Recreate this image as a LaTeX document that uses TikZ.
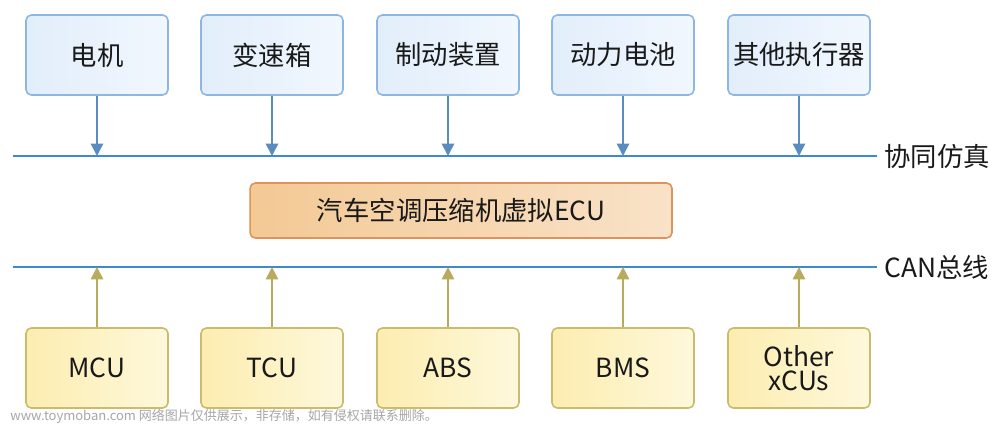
\documentclass[tikz,border=0pt]{standalone}
\usepackage{fontspec}
\setmainfont{Noto Sans CJK SC}
\usetikzlibrary{arrows.meta,positioning}
\definecolor{bluefillA}{HTML}{E2EEFB}
\definecolor{bluefillB}{HTML}{F1F7FE}
\definecolor{blueborder}{HTML}{8DB7E2}
\definecolor{bluearrow}{HTML}{5A8CC0}
\definecolor{busline}{HTML}{3D89D4}
\definecolor{orangeA}{HTML}{F3C994}
\definecolor{orangeB}{HTML}{F9E2C8}
\definecolor{orangeborder}{HTML}{DE935A}
\definecolor{yellowA}{HTML}{FCEDB0}
\definecolor{yellowB}{HTML}{FEF8DB}
\definecolor{yellowborder}{HTML}{CCBB6E}
\definecolor{yellowarrow}{HTML}{B9AA5C}
\tikzset{
  x=0.02cm,y=-0.02cm,
  txt/.style={font=\fontsize{15pt}{18pt}\selectfont,text=black!90},
  topbox/.style={txt,draw=blueborder,line width=0.9pt,rounded corners=3pt,left color=bluefillA,right color=bluefillB,minimum width=2.84cm,minimum height=1.6cm,inner sep=0pt},
  botbox/.style={txt,draw=yellowborder,line width=0.9pt,rounded corners=3pt,left color=yellowA,right color=yellowB,minimum width=2.84cm,minimum height=1.6cm,inner sep=0pt,align=center},
  ecubox/.style={txt,draw=orangeborder,line width=0.9pt,rounded corners=3pt,left color=orangeA,right color=orangeB,minimum width=8.44cm,minimum height=1.1cm,inner sep=0pt},
  bus/.style={draw=busline,line width=1pt},
  downarr/.style={draw=bluearrow,line width=0.9pt,-{Triangle[length=7pt,width=7pt]}},
  uparr/.style={draw=yellowarrow,line width=0.9pt,-{Triangle[length=7pt,width=7pt]}},
  buslabel/.style={txt,anchor=west,inner sep=0pt},
}
\begin{document}
\begin{tikzpicture}
\useasboundingbox (0,0) rectangle (1000,425);
% top boxes
\node[topbox] (t1) at (97,55) {电机};
\node[topbox] (t2) at (272,55) {变速箱};
\node[topbox] (t3) at (448,55) {制动装置};
\node[topbox] (t4) at (623,55) {动力电池};
\node[topbox] (t5) at (799,55) {其他执行器};
% buses
\coordinate (b1l) at (13,156);
\coordinate (b1r) at (877,156);
\coordinate (b2l) at (13,267);
\coordinate (b2r) at (877,267);
\draw[bus] (b1l) -- (b1r);
\draw[bus] (b2l) -- (b2r);
\node[buslabel] (l1) at (884,156) {协同仿真};
\node[buslabel] (l2) at (884,267) {CAN总线};
% ECU
\node[ecubox] (ecu) at (461,210.5) {汽车空调压缩机虚拟ECU};
% bottom boxes
\node[botbox] (m1) at (97,368) {MCU};
\node[botbox] (m2) at (272,368) {TCU};
\node[botbox] (m3) at (448,368) {ABS};
\node[botbox] (m4) at (623,368) {BMS};
\node[botbox] (m5) at (799,368) {Other\\[-4pt]xCUs};
% arrows
\foreach \i/\x in {1/97,2/272,3/448,4/623,5/799}{
  \coordinate (d\i) at (\x,156);
  \coordinate (u\i) at (\x,267);
  \draw[downarr] (t\i.south) -- (d\i);
  \draw[uparr] (m\i.north) -- (u\i);
}
% watermark
\node[anchor=west,inner sep=0pt,font=\fontsize{7.4pt}{9pt}\selectfont,text=black!35] (wm) at (10,416) {www.toymoban.com 网络图片仅供展示，非存储，如有侵权请联系删除。};
\end{tikzpicture}
\end{document}
